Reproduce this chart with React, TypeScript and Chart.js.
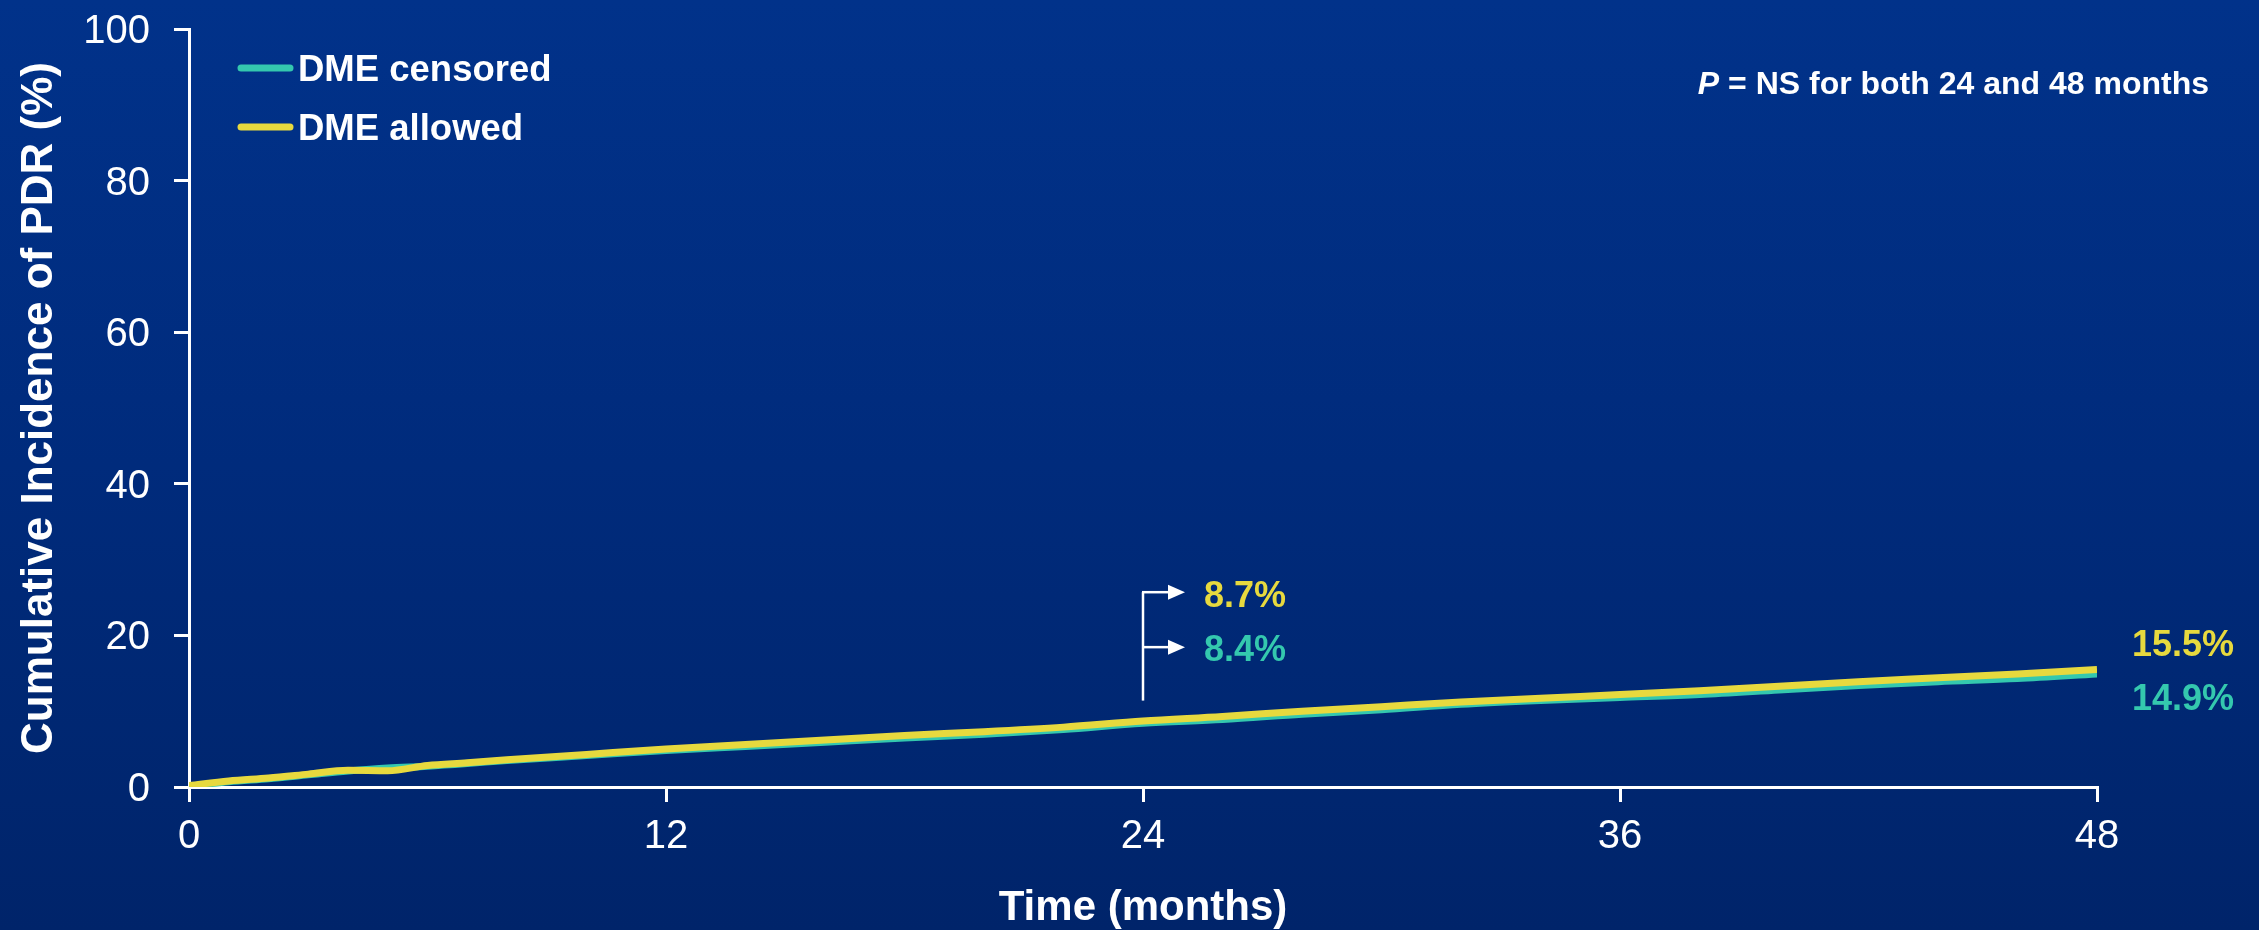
import { useEffect, useRef } from "react";
import { Chart, registerables } from "chart.js";

Chart.register(...registerables);

const months = [0, 1, 2, 3, 4, 5, 6, 7, 8, 10, 12, 14, 16, 18, 20, 22, 24, 26, 28, 30, 32, 34, 36, 38, 40, 42, 44, 46, 48];
const dmeAllowed = [0.2, 0.8, 1.2, 1.7, 2.2, 2.15, 2.85, 3.2, 3.6, 4.3, 5.0, 5.6, 6.2, 6.8, 7.3, 7.9, 8.7, 9.3, 10.0, 10.6, 11.2, 11.7, 12.2, 12.7, 13.3, 13.9, 14.4, 14.9, 15.5];
const dmeCensored = [0.1, 0.7, 1.1, 1.6, 2.1, 2.5, 2.75, 3.1, 3.5, 4.15, 4.8, 5.35, 5.9, 6.45, 6.95, 7.6, 8.4, 8.9, 9.6, 10.2, 10.9, 11.4, 11.8, 12.2, 12.8, 13.4, 13.9, 14.3, 14.9];
const seriesLabels = ["DME censored", "DME allowed"];
const xTicks = [0, 12, 24, 36, 48];
const yTicks = [0, 20, 40, 60, 80, 100];
const at24Labels = ["8.7%", "8.4%"];
const at48Labels = ["15.5%", "14.9%"];
const pNote = ["P", " = NS for both 24 and 48 months"];

const TEAL = "#34C8AE";
const YELLOW = "#E7D93E";
const FONT = "'Liberation Sans', Arial, sans-serif";

export default function App() {
  const ref = useRef<HTMLCanvasElement | null>(null);

  useEffect(() => {
    document.body.style.margin = "0";
    const canvas = ref.current;
    if (!canvas) return;

    const overlay = {
      id: "overlay",
      afterDraw(chart: any) {
        const ctx = chart.ctx as CanvasRenderingContext2D;
        const xs = chart.scales.x;
        const ys = chart.scales.y;
        ctx.save();
        // legend
        const legendRows = [
          { label: seriesLabels[0], color: TEAL, y: 68 },
          { label: seriesLabels[1], color: YELLOW, y: 127 },
        ];
        legendRows.forEach((r) => {
          ctx.strokeStyle = r.color;
          ctx.lineWidth = 7;
          ctx.lineCap = "round";
          ctx.beginPath();
          ctx.moveTo(241, r.y);
          ctx.lineTo(290, r.y);
          ctx.stroke();
          ctx.fillStyle = "#ffffff";
          ctx.font = `bold 36.5px ${FONT}`;
          ctx.textAlign = "left";
          ctx.textBaseline = "alphabetic";
          ctx.fillText(r.label, 298, r.y + 13);
        });

        // P note
        ctx.fillStyle = "#ffffff";
        ctx.font = `bold 32px ${FONT}`;
        const restW = ctx.measureText(pNote[1]).width;
        ctx.font = `italic bold 32px ${FONT}`;
        const pW = ctx.measureText(pNote[0]).width;
        const rightX = 2209;
        ctx.textAlign = "left";
        ctx.fillText(pNote[0], rightX - restW - pW, 94);
        ctx.font = `bold 32px ${FONT}`;
        ctx.fillText(pNote[1], rightX - restW, 94);

        // bracket at 24 months
        const bx = xs.getPixelForValue(24);
        const yTop = ys.getPixelForValue(25.7);
        const yMid = ys.getPixelForValue(18.45);
        const yBot = ys.getPixelForValue(11.4);
        ctx.strokeStyle = "#ffffff";
        ctx.fillStyle = "#ffffff";
        ctx.lineWidth = 2.5;
        ctx.lineCap = "butt";
        ctx.beginPath();
        ctx.moveTo(bx, yBot);
        ctx.lineTo(bx, yTop);
        ctx.stroke();
        [yTop, yMid].forEach((yy) => {
          ctx.beginPath();
          ctx.moveTo(bx - 1, yy);
          ctx.lineTo(bx + 27, yy);
          ctx.stroke();
          ctx.beginPath();
          ctx.moveTo(bx + 25, yy - 7.5);
          ctx.lineTo(bx + 42, yy);
          ctx.lineTo(bx + 25, yy + 7.5);
          ctx.closePath();
          ctx.fill();
        });
        ctx.font = `bold 36px ${FONT}`;
        ctx.textAlign = "left";
        ctx.fillStyle = YELLOW;
        ctx.fillText(at24Labels[0], bx + 61, yTop + 15);
        ctx.fillStyle = TEAL;
        ctx.fillText(at24Labels[1], bx + 61, yMid + 14);

        // end labels at 48 months
        const ex = xs.getPixelForValue(48) + 35;
        ctx.fillStyle = YELLOW;
        ctx.fillText(at48Labels[0], ex, ys.getPixelForValue(19.0) + 13);
        ctx.fillStyle = TEAL;
        ctx.fillText(at48Labels[1], ex, ys.getPixelForValue(11.85) + 13);
        ctx.restore();
      },
    };

    const chart = new Chart(canvas, {
      type: "line",
      data: {
        datasets: [
          {
            label: seriesLabels[0],
            data: months.map((m, i) => ({ x: m, y: dmeCensored[i] })),
            borderColor: TEAL,
            backgroundColor: TEAL,
            borderWidth: 7,
            pointRadius: 0,
            cubicInterpolationMode: "monotone",
            order: 1,
          },
          {
            label: seriesLabels[1],
            data: months.map((m, i) => ({ x: m, y: dmeAllowed[i] })),
            borderColor: YELLOW,
            backgroundColor: YELLOW,
            borderWidth: 7,
            pointRadius: 0,
            cubicInterpolationMode: "monotone",
            order: 0,
          },
        ],
      },
      options: {
        animation: false,
        responsive: false,
        maintainAspectRatio: false,
        layout: { padding: { top: 29, right: 162, left: 0, bottom: 0 } },
        plugins: {
          legend: { display: false },
          tooltip: { enabled: false },
        },
        scales: {
          x: {
            type: "linear",
            min: 0,
            max: 48,
            afterBuildTicks: (scale: any) => {
              scale.ticks = xTicks.map((v) => ({ value: v }));
            },
            afterFit: (scale: any) => {
              scale.height = 143;
              scale.paddingLeft = 0;
              scale.paddingRight = 0;
            },
            border: { color: "#ffffff", width: 3 },
            grid: {
              display: true,
              drawOnChartArea: false,
              drawTicks: true,
              tickLength: 15,
              color: "#ffffff",
              lineWidth: 3,
            },
            ticks: {
              color: "#ffffff",
              font: { family: FONT, size: 40 },
              padding: 11,
              maxRotation: 0,
              autoSkip: false,
            },
            title: {
              display: true,
              text: "Time (months)",
              color: "#ffffff",
              font: { family: FONT, size: 42, weight: "bold", lineHeight: 1 },
              padding: { top: 0, bottom: 1 },
            },
          },
          y: {
            type: "linear",
            min: 0,
            max: 100,
            afterBuildTicks: (scale: any) => {
              scale.ticks = yTicks.map((v) => ({ value: v }));
            },
            afterFit: (scale: any) => {
              scale.width = 189;
              scale.paddingTop = 0;
              scale.paddingBottom = 0;
            },
            border: { color: "#ffffff", width: 3 },
            grid: {
              display: true,
              drawOnChartArea: false,
              drawTicks: true,
              tickLength: 15,
              color: "#ffffff",
              lineWidth: 3,
            },
            ticks: {
              color: "#ffffff",
              font: { family: FONT, size: 40 },
              padding: 24,
              labelOffset: 3,
              autoSkip: false,
            },
            title: {
              display: true,
              text: "Cumulative Incidence of PDR (%)",
              color: "#ffffff",
              font: { family: FONT, size: 44, weight: "bold", lineHeight: 1 },
              padding: { top: 18, bottom: 0 },
            },
          },
        },
      },
      plugins: [overlay],
    });

    return () => chart.destroy();
  }, []);

  return (
    <div
      style={{
        position: "absolute",
        left: 0,
        top: 0,
        width: 2259,
        height: 930,
        background: "linear-gradient(180deg, #01328a 0%, #002b7c 50%, #00246a 100%)",
      }}
    >
      <canvas ref={ref} width={2259} height={930} style={{ display: "block", width: 2259, height: 930 }} />
    </div>
  );
}
